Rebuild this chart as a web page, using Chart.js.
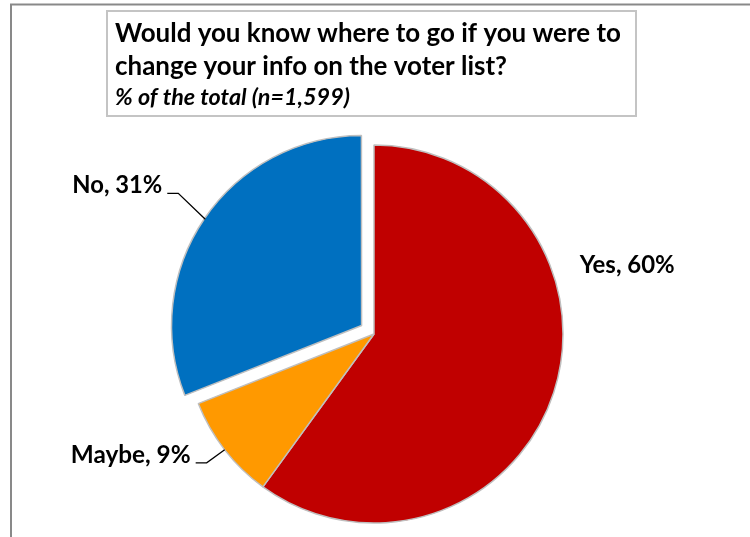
<!DOCTYPE html>
<html>
<head>
<meta charset="utf-8">
<script src="https://cdn.jsdelivr.net/npm/chart.js@4"></script>
<style>
  html, body { margin: 0; padding: 0; background: #fff; }
  #wrap { width: 750px; height: 537px; position: relative; }
</style>
</head>
<body>
<div id="wrap"><canvas id="myChart" width="750" height="537"></canvas></div>
<script>
"use strict";

// data
const categories = ["Yes", "Maybe", "No"];
const percentValues = [60, 9, 31];
const titleLines = ["Would you know where to go if you were to", "change your info on the voter list?"];
const subtitleText = "% of the total (n=1,599)";

const sliceColors = ["#C00000", "#FF9900", "#0070C0"];
const sliceOffsets = [0, 0, 60];
const FONT = "Lato, 'Open Sans', sans-serif";

// where each label sits, relative to the point on the slice edge at its mid angle
// leader: true -> diagonal + short horizontal line, text right aligned at its end
const labelSpots = [
    { dx: 26, dy: -119, leader: false, width: 95 },
    { dx: -18, dy: 13, leader: true, width: 120 },
    { dx: -27, dy: -26, leader: true, width: 90 }
];

// font string with the size picked so the text gets the wanted width
function fitFont(ctx, text, style, target) {
    ctx.font = style + " 100px " + FONT;
    let w = ctx.measureText(text).width;
    return style + " " + (100 * target / w).toFixed(2) + "px " + FONT;
}

// frame + title box
const framePlugin = {
    id: "framePlugin",
    beforeDraw(chart) {
        let ctx = chart.ctx;
        ctx.save();
        ctx.fillStyle = "#fff";
        ctx.fillRect(0, 0, chart.width, chart.height);
        ctx.strokeStyle = "#898989";
        ctx.lineWidth = 2;
        ctx.beginPath();
        ctx.moveTo(11, chart.height);
        ctx.lineTo(11, 4.5);
        ctx.lineTo(chart.width, 4.5);
        ctx.stroke();

        ctx.strokeStyle = "#C4C4C4";
        ctx.lineWidth = 2;
        ctx.strokeRect(107, 11, 529, 105);

        ctx.fillStyle = "#000";
        ctx.textAlign = "left";
        ctx.textBaseline = "alphabetic";
        ctx.font = fitFont(ctx, titleLines[0], "bold", 506);
        ctx.fillText(titleLines[0], 115, 42);
        ctx.fillText(titleLines[1], 115, 75);
        ctx.font = fitFont(ctx, subtitleText, "italic bold", 235);
        ctx.fillText(subtitleText, 115, 105);
        ctx.restore();
    }
};

// data labels with leader lines
const labelPlugin = {
    id: "labelPlugin",
    afterDatasetsDraw(chart) {
        let ctx = chart.ctx;
        let arcs = chart.getDatasetMeta(0).data;
        ctx.save();
        ctx.fillStyle = "#000";
        ctx.strokeStyle = "#000";
        ctx.lineWidth = 1.3;
        ctx.textBaseline = "alphabetic";
        arcs.forEach(function (arc, i) {
            let p = arc.getProps(["x", "y", "startAngle", "endAngle", "outerRadius"], true);
            let mid = (p.startAngle + p.endAngle) / 2;
            let r = p.outerRadius + (arc.options.offset || 0) / 4;
            let ax = p.x + Math.cos(mid) * r;
            let ay = p.y + Math.sin(mid) * r;
            let spot = labelSpots[i];
            let text = categories[i] + ", " + percentValues[i] + "%";
            let ex = ax + spot.dx, ey = ay + spot.dy;
            ctx.font = fitFont(ctx, text, "bold", spot.width);
            if (spot.leader) {
                ctx.beginPath();
                ctx.moveTo(ax, ay);
                ctx.lineTo(ex, ey);
                ctx.lineTo(ex - 11, ey);
                ctx.stroke();
                ctx.textAlign = "right";
                ctx.fillText(text, ex - 16, ey);
            } else {
                ctx.textAlign = "left";
                ctx.fillText(text, ex, ey);
            }
        });
        ctx.restore();
    }
};

new Chart(document.getElementById("myChart"), {
    type: "pie",
    data: {
        labels: categories,
        datasets: [{
            data: percentValues,
            backgroundColor: sliceColors,
            borderColor: "#BFBFBF",
            borderWidth: 1.5,
            offset: sliceOffsets,
            hoverOffset: 0
        }]
    },
    options: {
        responsive: false,
        animation: false,
        radius: 189,
        layout: { padding: { left: 20, right: 22, top: 140, bottom: 9 } },
        plugins: {
            legend: { display: false },
            tooltip: { enabled: false },
            title: { display: false }
        },
        events: []
    },
    plugins: [framePlugin, labelPlugin]
});
</script>
</body>
</html>
